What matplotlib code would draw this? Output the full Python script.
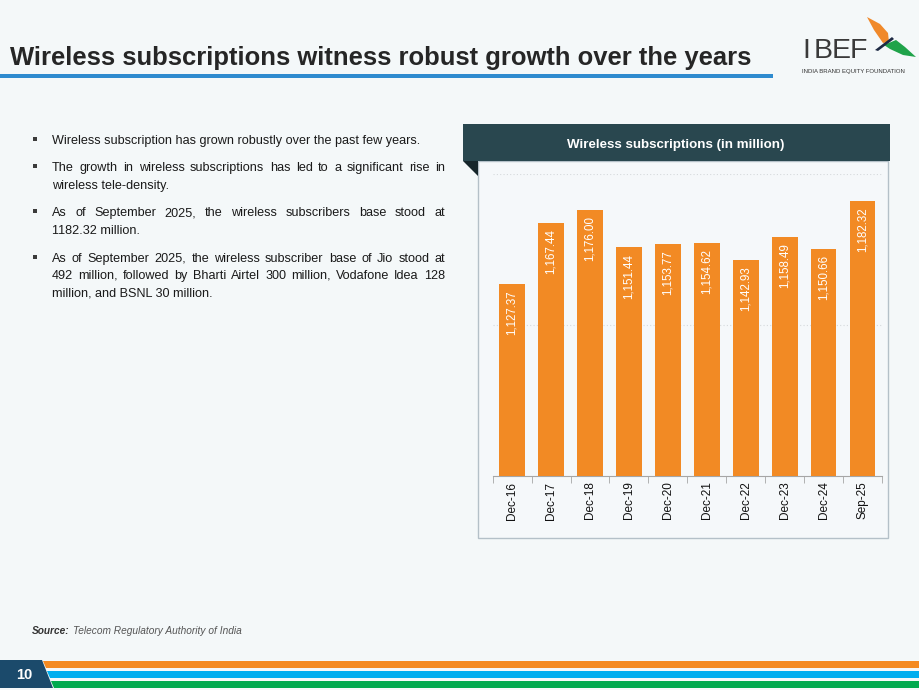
import numpy as np
import matplotlib
matplotlib.use('Agg')
import matplotlib.pyplot as plt
from matplotlib.patches import Rectangle, Polygon

plt.rcParams['font.family'] = ['Liberation Sans', 'DejaVu Sans']

# data
periods = ["Dec-16", "Dec-17", "Dec-18", "Dec-19", "Dec-20",
           "Dec-21", "Dec-22", "Dec-23", "Dec-24", "Sep-25"]
subs = [1127.37, 1167.44, 1176.00, 1151.44, 1153.77,
        1154.62, 1142.93, 1158.49, 1150.66, 1182.32]

title = "Wireless subscriptions witness robust growth over the years"
chart_title = "Wireless subscriptions (in million)"
bullets = [
    ["Wireless subscription has grown robustly over the past few years."],
    ["The growth in wireless subscriptions has led to a significant rise in",
     "wireless tele-density."],
    ["As of September 2025, the wireless subscribers base stood at",
     "1182.32 million."],
    ["As of September 2025, the wireless subscriber base of Jio stood at",
     "492 million, followed by Bharti Airtel 300 million, Vodafone Idea 128",
     "million, and BSNL 30 million."],
]

W, H = 920, 690
BG = '#f4f8f9'
ORANGE = '#f28a24'

fig = plt.figure(figsize=(W / 100, H / 100), dpi=100, facecolor=BG)


def fx(x):
    return x / W


def fy(y):
    return 1 - y / H


def rect(x0, y0, x1, y1, **kw):
    fig.patches.append(Rectangle((fx(x0), fy(y1)), fx(x1) - fx(x0), fy(y0) - fy(y1),
                                 transform=fig.transFigure, figure=fig, **kw))


def poly(pts, **kw):
    fig.patches.append(Polygon([(fx(a), fy(b)) for a, b in pts], closed=True,
                               transform=fig.transFigure, figure=fig, **kw))


# title + underline
fig.text(fx(10), fy(58), title, fontsize=18.45, fontweight='bold', color='#262626',
         va='center', ha='left')
rect(0, 74, 773, 78, color='#2e8bcf', lw=0)

# logo
for i, ch in enumerate("IBEF"):
    fig.text(fx(806 + i * 17.5), fy(51), ch, fontsize=20.5, color='#3a3a3a', va='center', ha='center')
fig.text(fx(802), fy(72), "INDIA BRAND EQUITY FOUNDATION", fontsize=4.3, color='#333333',
         va='center', ha='left')
poly([(867, 17), (880, 24), (888, 33), (889, 42), (883, 43), (874, 30)], color='#f0892a', lw=0)
poly([(884, 45), (896, 40), (905, 47), (916, 57), (903, 55), (890, 49)], color='#1fa34a', lw=0)
poly([(875, 50), (892, 37), (894, 39), (878, 51)], color='#1e2a44', lw=0)

# bullets (justified like the slide); baselines kept on whole pixels
renderer = fig.canvas.get_renderer()
x_left, x_right = 52, 445
fs = 9.1
y = 143.5
for para in bullets:
    yb = round(y)
    rect(33, yb - 7, 37, yb - 3, color='#3b3b3b', lw=0)
    for k, line in enumerate(para):
        yb = round(y)
        last = (k == len(para) - 1)
        words = line.split(' ')
        if last:
            fig.text(fx(x_left), fy(yb), line, fontsize=fs, color='#1a1a1a',
                     va='baseline', ha='left')
        else:
            ts = [fig.text(0, fy(yb), w_, fontsize=fs, color='#1a1a1a', va='baseline', ha='left')
                  for w_ in words]
            widths = [t.get_window_extent(renderer).width for t in ts]
            gap = (x_right - x_left - sum(widths)) / (len(words) - 1)
            xx = x_left
            for t, wd in zip(ts, widths):
                t.set_x(fx(xx))
                xx += wd + gap
        y += 17.6
    y += 10

# chart panel
rect(478, 161, 888, 538, facecolor='#f5f8fa', edgecolor='#b4c0c8', lw=1)
rect(463, 124, 890, 161, color='#29474f', lw=0)
poly([(463, 161), (478, 161), (478, 176)], color='#16262b', lw=0)
fig.text(fx(676), fy(145), chart_title, fontsize=9.6, fontweight='bold', color='white',
         ha='center', va='center')

ax = fig.add_axes([fx(492.7), fy(476), fx(882) - fx(492.7), fy(174) - fy(476)])
ax.set_zorder(5)
ax.set_facecolor('none')
x = np.arange(len(periods))
bars = ax.bar(x, subs, width=0.66, color=ORANGE, zorder=3)
ax.set_ylim(1000, 1200)
ax.set_xlim(-0.5, len(periods) - 0.5)
for gv in [1100, 1200]:
    ax.axhline(gv, color='#d5d9dc', lw=0.8, ls=(0, (1, 2)), zorder=1)
for xi, v in zip(x, subs):
    ax.annotate(f"{v:,.2f}", (xi, v), xytext=(0, -4.5), textcoords='offset points',
                rotation=90, ha='center', va='top', color='white', fontsize=8.3, zorder=4)

for s in ['top', 'right', 'left']:
    ax.spines[s].set_visible(False)
ax.spines['bottom'].set_color('#a6a6a6')
ax.set_yticks([])
ax.set_xticks(x)
ax.set_xticklabels(periods, rotation=90, fontsize=8.5, color='#111111')
ax.tick_params(axis='x', length=0, pad=4)
ax.set_xticks(np.arange(-0.5, len(periods)), minor=True)
ax.tick_params(axis='x', which='minor', length=5, color='#a6a6a6')

# source
fig.text(fx(32), fy(631), "Source:", fontsize=7.3, fontweight='bold', style='italic',
         color='#333333', va='center', ha='left')
fig.text(fx(73), fy(631), "Telecom Regulatory Authority of India", fontsize=7.3, style='italic',
         color='#555555', va='center', ha='left')

# footer
poly([(0, 660), (42, 660), (53, 688), (0, 688)], color='#1b4a6b', lw=0)
fig.text(fx(24), fy(675), "10", fontsize=10.5, fontweight='bold', color='white',
         ha='center', va='center')
poly([(43, 661), (920, 661), (920, 668), (46, 668)], color='#f48a21', lw=0)
poly([(47, 671), (920, 671), (920, 678), (50, 678)], color='#00aeef', lw=0)
poly([(51, 681), (920, 681), (920, 688), (54, 688)], color='#00a94f', lw=0)

fig.savefig('out.png', dpi=100, facecolor=BG)
